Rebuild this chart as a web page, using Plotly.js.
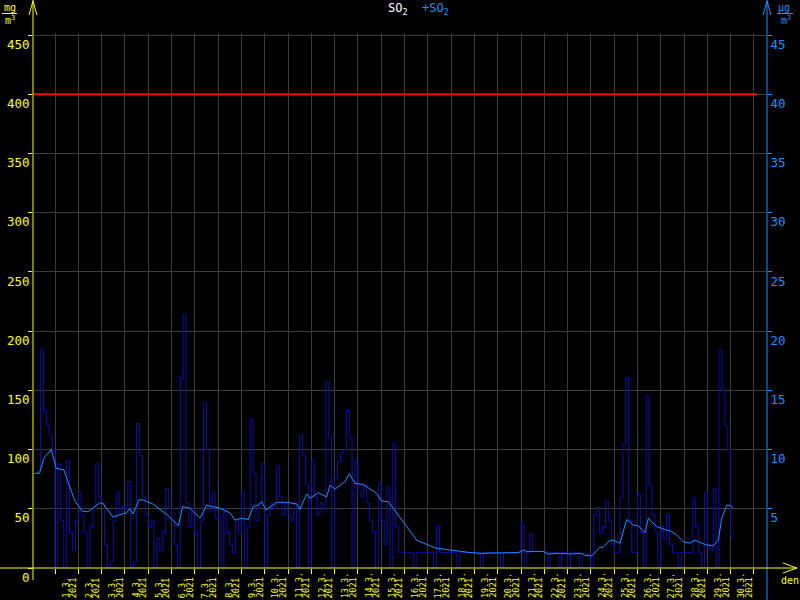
<!DOCTYPE html>
<html><head><meta charset="utf-8">
<script src="https://cdn.plot.ly/plotly-3.0.1.min.js"></script>
<style>html,body{margin:0;padding:0;background:#000;}#chart{width:800px;height:600px;}</style>
</head><body><div id="chart"></div>
<script>
// ---- data ----
// SO2 (left axis, mg/m3 scale), 3-hour samples starting 28.2.2021 03:00
const so2Start = '2021-02-28T03:00:00Z';
const so2StepHours = 3;
const so2Feb28 = [80, 82, 185, 133, 121, 112, 100];
const so2Week1 = [
  0, 88, 40, 0, 91, 30, 15, 40,      // 1.3
  64, 45, 30, 0, 35, 50, 88, 60,     // 2.3
  55, 20, 0, 5, 40, 64, 45, 52,      // 3.3
  50, 73, 0, 5, 122, 95, 60, 45,     // 4.3
  35, 40, 0, 25, 15, 30, 67, 50,     // 5.3
  40, 20, 0, 160, 214, 55, 35, 50,   // 6.3
  30, 0, 40, 140, 100, 48, 64, 42    // 7.3
];
const so2Week2 = [
  45, 0, 50, 30, 20, 13, 40, 30,     // 8.3
  64, 0, 35, 125, 80, 40, 55, 88,    // 9.3
  0, 45, 55, 50, 86, 60, 45, 55,     // 10.3
  45, 40, 55, 0, 112, 95, 70, 0,     // 11.3
  91, 60, 45, 55, 50, 157, 110, 0,   // 12.3
  75, 90, 97, 100, 133, 110, 0, 91,  // 13.3
  65, 60, 69, 55, 40, 30, 0, 71      // 14.3
];
const so2Week3 = [
  40, 20, 69, 0, 105, 35, 13, 13,    // 15.3
  13, 13, 13, 0, 13, 13, 13, 13,     // 16.3
  13, 13, 0, 35, 13, 13, 13, 13,     // 17.3
  13, 13, 0, 13, 13, 13, 13, 13,     // 18.3
  13, 13, 0, 13, 13, 13, 13, 13,     // 19.3
  13, 0, 13, 13, 13, 13, 13, 13,     // 20.3
  37, 0, 13, 29, 14, 14, 14, 14      // 21.3
];
const so2Week4 = [
  14, 0, 13, 13, 13, 0, 13, 13,      // 22.3
  0, 13, 13, 13, 0, 12, 12, 12,      // 23.3
  0, 45, 51, 30, 35, 56, 40, 20,     // 24.3
  13, 13, 60, 105, 160, 40, 13, 13,  // 25.3
  62, 30, 0, 145, 70, 45, 30, 0,     // 26.3
  35, 25, 46, 20, 13, 13, 0, 13,     // 27.3
  13, 13, 13, 59, 35, 13, 0, 64,     // 28.3
  20, 15, 67, 0, 184, 150, 120, 100, // 29.3
  26, 26                             // 30.3
];

// +SO2 running value (right axis, ug/m3)
const avgTimes = [
 '2021-02-28 03:00','2021-02-28 08:00','2021-02-28 12:40','2021-02-28 20:10',
 '2021-03-01 01:20','2021-03-01 09:00','2021-03-01 20:15','2021-03-02 04:05',
 '2021-03-02 10:00','2021-03-02 15:10','2021-03-02 22:00','2021-03-03 01:25',
 '2021-03-03 11:45','2021-03-03 16:55','2021-03-04 01:25','2021-03-04 04:55',
 '2021-03-04 08:20','2021-03-04 14:30','2021-03-04 18:40','2021-03-05 04:55',
 '2021-03-05 22:25','2021-03-06 07:00','2021-03-06 11:30','2021-03-06 19:05',
 '2021-03-07 05:20','2021-03-07 12:15','2021-03-08 02:00','2021-03-08 12:15',
 '2021-03-08 17:25','2021-03-09 00:20','2021-03-09 07:05','2021-03-09 12:15',
 '2021-03-09 17:25','2021-03-09 20:55','2021-03-10 01:20','2021-03-10 12:20',
 '2021-03-10 22:40','2021-03-11 09:00','2021-03-11 12:20','2021-03-11 19:15',
 '2021-03-11 22:40','2021-03-12 07:10','2021-03-12 15:50','2021-03-12 19:15',
 '2021-03-13 00:25','2021-03-13 10:45','2021-03-13 15:10','2021-03-13 21:00',
 '2021-03-14 05:35','2021-03-14 19:20','2021-03-15 00:30','2021-03-15 07:20',
 '2021-03-15 16:00','2021-03-16 02:15','2021-03-16 12:35','2021-03-17 00:30',
 '2021-03-17 07:25','2021-03-17 17:45','2021-03-18 04:00','2021-03-18 17:45',
 '2021-03-19 05:45','2021-03-20 04:05','2021-03-20 21:15','2021-03-21 02:25',
 '2021-03-21 05:55','2021-03-21 23:00','2021-03-22 04:05','2021-03-22 14:25',
 '2021-03-23 04:15','2021-03-23 14:30','2021-03-23 17:55','2021-03-24 00:50',
 '2021-03-24 09:20','2021-03-24 12:45','2021-03-24 19:00','2021-03-24 23:05',
 '2021-03-25 06:00','2021-03-25 12:50','2021-03-25 19:40','2021-03-26 00:50',
 '2021-03-26 07:45','2021-03-26 11:10','2021-03-26 19:45','2021-03-27 06:05',
 '2021-03-27 09:30','2021-03-27 16:20','2021-03-27 23:10','2021-03-28 06:05',
 '2021-03-28 11:15','2021-03-28 18:05','2021-03-28 23:15','2021-03-29 06:05',
 '2021-03-29 11:15','2021-03-29 14:45','2021-03-29 19:55','2021-03-29 23:15',
 '2021-03-30 02:05'
];
const avgValues = [
 8.0, 8.0, 9.3, 10.0, 8.4, 8.3, 5.7, 4.8, 4.75, 5.05, 5.5, 5.45,
 4.3, 4.45, 4.65, 5.0, 4.55, 5.75, 5.75, 5.4, 4.3, 3.55, 5.2, 5.05,
 4.2, 5.3, 5.05, 4.65, 4.05, 4.2, 4.1, 5.2, 5.3, 5.6, 4.9, 5.55,
 5.55, 5.4, 4.95, 6.25, 5.9, 6.35, 6.0, 7.0, 6.65, 7.3, 7.95, 7.15,
 7.05, 6.3, 5.65, 5.6, 4.6, 3.5, 2.35, 1.95, 1.7, 1.58, 1.46, 1.32,
 1.24, 1.24, 1.3, 1.52, 1.4, 1.4, 1.18, 1.24, 1.18, 1.24, 1.07, 1.01,
 1.75, 1.75, 2.3, 2.36, 2.09, 4.1, 3.63, 3.55, 2.98, 4.2, 3.5, 3.2,
 3.15, 2.79, 2.22, 2.09, 2.36, 2.09, 1.94, 1.88, 2.36, 4.2, 5.3, 5.3,
 5.1
];

const limitValue = 400;
const limitSpan = ['2021-02-28 00:00', '2021-03-31 03:00'];

// day ticks (midnight) and day labels (centred on noon)
const dayTicks = [];
for (let d = 1; d <= 31; d++) dayTicks.push('2021-03-' + String(d).padStart(2, '0'));
const dayLabels = [];
const dayLabelPos = [];
for (let d = 1; d <= 30; d++) {
  dayLabels.push(d + '.3.');
  dayLabelPos.push('2021-03-' + String(d).padStart(2, '0') + ' 12:00');
}
const yearLabel = '2021';
const leftTicks = [0, 50, 100, 150, 200, 250, 300, 350, 400, 450];
const rightTicks = [5, 10, 15, 20, 25, 30, 35, 40, 45];

// ---- build ----
const so2Values = so2Feb28.concat(so2Week1, so2Week2, so2Week3, so2Week4);
const t0 = Date.parse(so2Start);
const so2Times = so2Values.map((_, i) =>
  new Date(t0 + i * so2StepHours * 3600000).toISOString().slice(0, 16).replace('T', ' '));

const YELLOW = '#ffff00', BLUE = '#1e90ff', NAVY = '#0a10a8', GRID = '#3c3c3c';
const L = 33, R = 767, T = 33, B = 568;
const px = x => (x - L) / (R - L);
const py = y => (B - y) / (B - T);

const traces = [
  {x: so2Times, y: so2Values, type: 'scatter', mode: 'lines', line: {color: NAVY, width: 1, shape: 'hv'}, xaxis: 'x', yaxis: 'y', hoverinfo: 'skip'},
  {x: limitSpan, y: [limitValue, limitValue], type: 'scatter', mode: 'lines', line: {color: '#ff0000', width: 2}, xaxis: 'x', yaxis: 'y', hoverinfo: 'skip'},
  {x: avgTimes, y: avgValues, type: 'scatter', mode: 'lines', line: {color: BLUE, width: 1}, xaxis: 'x', yaxis: 'y2', hoverinfo: 'skip'}
];

const shapes = [
  {type: 'line', xref: 'paper', yref: 'paper', x0: px(33), x1: px(33), y0: py(580), y1: py(0), line: {color: YELLOW, width: 1}},
  {type: 'path', xref: 'paper', yref: 'paper', path: `M ${px(29)} ${py(15)} L ${px(33)} ${py(1)} L ${px(37)} ${py(15)}`, line: {color: YELLOW, width: 1}},
  {type: 'line', xref: 'paper', yref: 'paper', x0: px(767), x1: px(767), y0: py(600), y1: py(0), line: {color: BLUE, width: 1}},
  {type: 'path', xref: 'paper', yref: 'paper', path: `M ${px(763)} ${py(15)} L ${px(767)} ${py(1)} L ${px(771)} ${py(15)}`, line: {color: BLUE, width: 1}},
  {type: 'line', xref: 'paper', yref: 'paper', x0: px(0), x1: px(797), y0: py(568), y1: py(568), line: {color: YELLOW, width: 1}},
  {type: 'path', xref: 'paper', yref: 'paper', path: `M ${px(783)} ${py(563)} L ${px(797)} ${py(568)} L ${px(783)} ${py(573)}`, line: {color: YELLOW, width: 1}},
  {type: 'line', xref: 'paper', yref: 'paper', x0: px(2), x1: px(17), y0: py(13.5), y1: py(13.5), line: {color: YELLOW, width: 1}},
  {type: 'line', xref: 'paper', yref: 'paper', x0: px(777), x1: px(793), y0: py(13.5), y1: py(13.5), line: {color: BLUE, width: 1}}
];

const ann = (x, y, text, color, size) => ({xref: 'paper', yref: 'paper', x: px(x), y: py(y), text, showarrow: false,
  xanchor: 'center', yanchor: 'middle', borderpad: 0, font: {family: 'DejaVu Sans Mono', size, color}});
const annotations = [
  ann(10, 7.5, 'mg', YELLOW, 10),
  ann(10, 20.5, 'm<sup>3</sup>', YELLOW, 10),
  ann(784, 7.5, 'μg', BLUE, 10),
  ann(786, 20.5, 'm<sup>3</sup>', BLUE, 10),
  ann(790, 580, 'den', YELLOW, 10),
  ann(418, 9, 'SO<sub>2</sub>  <span style="color:' + BLUE + '">+SO<sub>2</sub></span>', '#ffffff', 12)
];
// rotated day labels on the x scale, reading upward from the bottom edge
dayLabelPos.forEach((t, i) => {
  const common = {xref: 'x', yref: 'paper', x: t, y: py(599), yanchor: 'bottom', xanchor: 'center',
    textangle: -90, showarrow: false, borderpad: 0, font: {family: 'DejaVu Sans Mono', size: 8.5, color: YELLOW}};
  annotations.push(Object.assign({}, common, {text: dayLabels[i], xshift: -1}));
  annotations.push(Object.assign({}, common, {text: yearLabel, xshift: 6.5}));
});

const layout = {
  width: 800, height: 600,
  margin: {l: L, r: 800 - R, t: T, b: 600 - B, pad: 0},
  paper_bgcolor: '#000', plot_bgcolor: '#000',
  showlegend: false,
  font: {family: 'DejaVu Sans Mono', color: YELLOW},
  xaxis: {type: 'date', range: ['2021-02-28 01:20', '2021-03-31 13:24'],
    tickmode: 'array', tickvals: dayTicks, showticklabels: false,
    ticks: 'outside', ticklen: 5, tickcolor: YELLOW, tickwidth: 1,
    showgrid: true, gridcolor: GRID, gridwidth: 1, showline: false, zeroline: false, fixedrange: true},
  yaxis: {range: [0, 451.7], tickmode: 'array', tickvals: leftTicks,
    ticks: 'outside', ticklen: 4, tickcolor: YELLOW, tickwidth: 1, ticklabelposition: 'outside bottom',
    tickfont: {family: 'DejaVu Sans Mono', size: 12.5, color: YELLOW},
    showgrid: true, gridcolor: GRID, gridwidth: 1, showline: false, zeroline: false, fixedrange: true},
  yaxis2: {overlaying: 'y', side: 'right', anchor: 'x', range: [0, 45.17], tickmode: 'array', tickvals: rightTicks,
    ticks: 'outside', ticklen: 4, tickcolor: BLUE, tickwidth: 1, ticklabelposition: 'outside bottom',
    tickfont: {family: 'DejaVu Sans Mono', size: 12.5, color: BLUE},
    showgrid: false, showline: false, zeroline: false, fixedrange: true},
  shapes, annotations
};

Plotly.newPlot('chart', traces, layout, {displayModeBar: false, staticPlot: true});
</script>
</body></html>
